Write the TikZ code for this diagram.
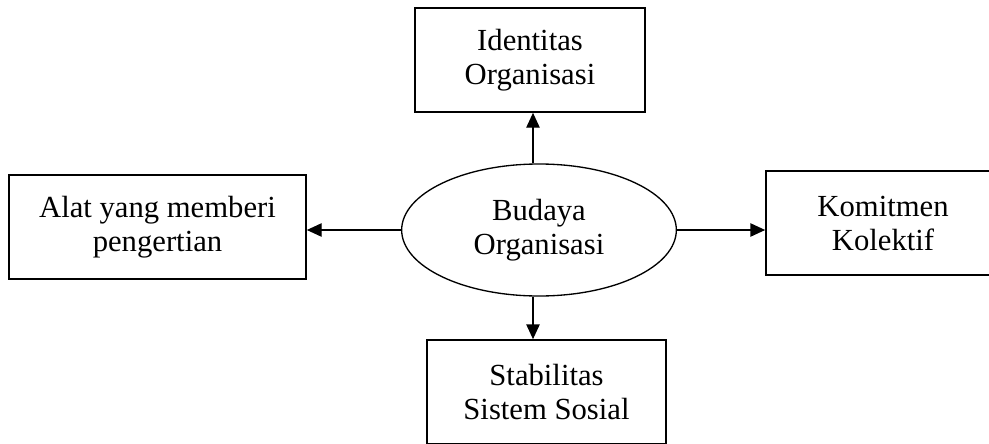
\documentclass[tikz,border=0pt]{standalone}
\usepackage{fontspec}
\setmainfont{Liberation Serif}
\usetikzlibrary{arrows.meta,shapes.geometric}

\tikzset{
  kotak/.style={draw, line width=1.3pt, rectangle, inner sep=0pt, align=center, minimum height=78pt},
  pusat/.style={draw, line width=1pt, ellipse, inner sep=0pt, align=center, minimum width=206pt, minimum height=99pt},
  panah/.style={line width=0.8pt, -{Triangle[length=11pt, width=10pt]}}
}

\begin{document}
\begin{tikzpicture}[x=0.75pt,y=0.75pt,yscale=-1,xscale=1,font=\fontsize{23}{25.5}\selectfont]

    \clip (0,0) rectangle (989,443);
    \useasboundingbox (0,0) rectangle (989,443);

    \node [pusat] (budaya) at (539,230) {Budaya\\Organisasi};
    \node [kotak, minimum width=172.5pt] (identitas) at (530,60) {Identitas\\Organisasi};
    \node [kotak, minimum width=222.75pt] (alat) at (157.5,227) {Alat yang memberi\\pengertian};
    \node [kotak, minimum width=175.5pt] (komitmen) at (883,223) {Komitmen\\Kolektif};
    \node [kotak, minimum width=179.25pt] (stabilitas) at (546.5,392) {Stabilitas\\Sistem Sosial};

    % the vertical arrows stand a little left of the ellipse's centre
    \coordinate (atas) at ([xshift=-4.5pt]budaya.north);
    \coordinate (bawah) at ([xshift=-4.5pt]budaya.south);

    \draw [panah] (atas) -- (atas |- identitas.south);
    \draw [panah] (budaya.west) -- (budaya.west -| alat.east);
    \draw [panah] (budaya.east) -- (budaya.east -| komitmen.west);
    \draw [panah] (bawah) -- (bawah |- stabilitas.north);

\end{tikzpicture}
\end{document}
